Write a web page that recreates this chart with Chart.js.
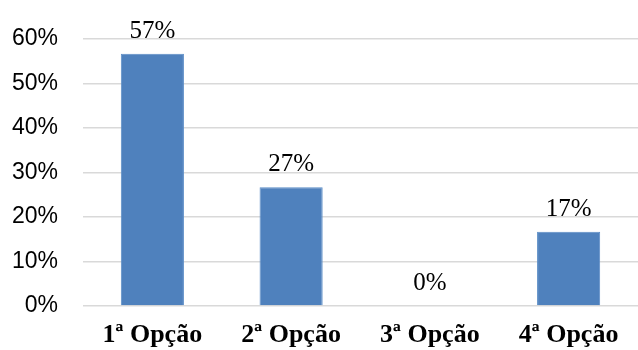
<!DOCTYPE html>
<html>
<head>
<meta charset="utf-8">
<script src="https://cdn.jsdelivr.net/npm/chart.js@4"></script>
<style>
  html, body { margin: 0; padding: 0; background: #fff; }
  #wrap { width: 638px; height: 350px; }
</style>
</head>
<body>
<div id="wrap"><canvas id="myChart" width="638" height="350"></canvas></div>
<script>
'use strict';

const categories = ['1ª Opção', '2ª Opção', '3ª Opção', '4ª Opção'];
const values = [56.67, 26.67, 0, 16.67];
const valueLabels = ['57%', '27%', '0%', '17%'];
const yTicks = [0, 10, 20, 30, 40, 50, 60];

// draws the value above each bar
const barLabels = {
  id: 'barLabels',
  afterDatasetsDraw(chart) {
    const ctx = chart.ctx;
    const meta = chart.getDatasetMeta(0);
    ctx.save();
    ctx.font = '25px "Liberation Serif", "Times New Roman", serif';
    ctx.fillStyle = '#000';
    ctx.textAlign = 'center';
    ctx.textBaseline = 'alphabetic';
    meta.data.forEach((bar, i) => {
      ctx.fillText(valueLabels[i], bar.x, bar.y - 16);
    });
    ctx.restore();
  }
};

const ctx = document.getElementById('myChart');

new Chart(ctx, {
  type: 'bar',
  data: {
    labels: categories,
    datasets: [{
      data: values,
      backgroundColor: '#4F81BD',
      borderColor: '#5A8CC6',
      borderWidth: 1,
      categoryPercentage: 1,
      barPercentage: 0.455,
    }]
  },
  options: {
    responsive: false,
    animation: false,
    layout: { padding: { top: 36, right: 0, bottom: 0, left: 0 } },
    scales: {
      y: {
        min: 0,
        max: 60,
        afterFit(scale) { scale.width = 83; },
        afterBuildTicks(scale) { scale.ticks = yTicks.map(v => ({ value: v })); },
        border: { display: false },
        grid: { color: '#d9d9d9', lineWidth: 1.5, drawTicks: false },
        ticks: {
          padding: 25,
          color: '#000',
          font: { family: '"Liberation Sans", Arial, sans-serif', size: 23 },
          callback: v => v + '%'
        }
      },
      x: {
        afterFit(scale) { scale.height = 44; },
        border: { display: false },
        grid: { display: false, drawTicks: false },
        ticks: {
          padding: 14,
          color: '#000',
          font: { family: '"Liberation Serif", "Times New Roman", serif', size: 26, weight: 'bold' }
        }
      }
    },
    plugins: {
      legend: { display: false },
      tooltip: { enabled: false }
    }
  },
  plugins: [barLabels]
});
</script>
</body>
</html>
